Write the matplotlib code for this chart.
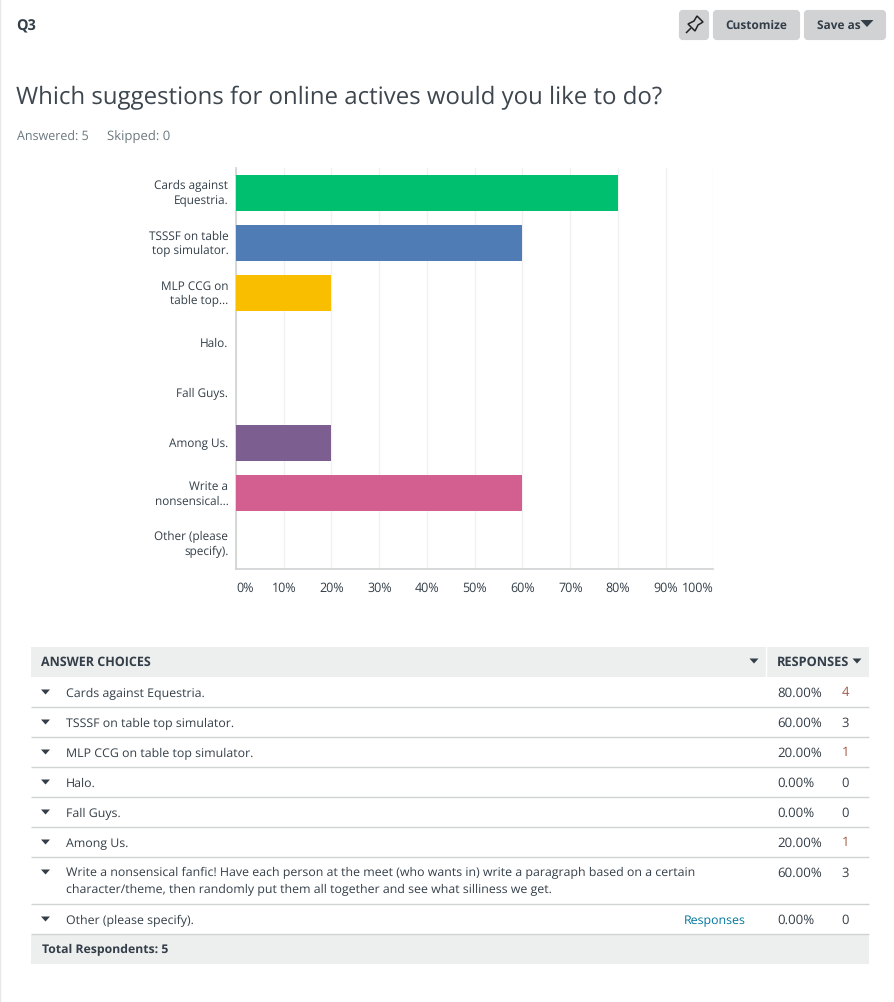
import matplotlib
matplotlib.use("Agg")
import matplotlib.pyplot as plt
from matplotlib.patches import FancyBboxPatch, Rectangle, Polygon
from matplotlib.transforms import ScaledTranslation

plt.rcParams['font.family'] = ['Open Sans', 'DejaVu Sans']
plt.rcParams['text.hinting'] = 'no_hinting'

W, H = 895, 1002
INK = '#333e48'
MUTED = '#6b787f'
RULE = '#d0d2d3'
HEAD = '#edeeee'

question = "Which suggestions for online actives would you like to do?"
categories = ["Cards against\nEquestria.", "TSSSF on table\ntop simulator.", "MLP CCG on\ntable top...",
              "Halo.", "Fall Guys.", "Among Us.", "Write a\nnonsensical...", "Other (please\nspecify)."]
percent = [80, 60, 20, 0, 0, 20, 60, 0]
bar_colors = ['#00bf6f', '#507cb6', '#f9be00', '#6bc8cd', '#7d5e90', '#7d5e90', '#d25f90', '#a8a8a8']
x_ticks = list(range(0, 101, 10))
x_tick_labels = [f"{t}%" for t in x_ticks]

choices = ["Cards against Equestria.", "TSSSF on table top simulator.", "MLP CCG on table top simulator.",
           "Halo.", "Fall Guys.", "Among Us.",
           "Write a nonsensical fanfic! Have each person at the meet (who wants in) write a paragraph based on a certain\ncharacter/theme, then randomly put them all together and see what silliness we get.",
           "Other (please specify)."]
shares = ["80.00%", "60.00%", "20.00%", "0.00%", "0.00%", "20.00%", "60.00%", "0.00%"]
counts = ["4", "3", "1", "0", "0", "1", "3", "0"]
count_colors = ['#a05a48', INK, '#a05a48', INK, INK, '#a05a48', INK, INK]
row_bottoms = [707, 737, 767, 797, 827, 857, 904, 934]

fig = plt.figure(figsize=(W / 100, H / 100), dpi=100, facecolor='white')

# page overlay in pixel coordinates
pg = fig.add_axes([0, 0, 1, 1])
pg.set_xlim(0, W)
pg.set_ylim(H, 0)
pg.axis('off')

def px(s):
    return s * 0.72

def txt(x, y, s, size, color=INK, ha='left', va='center', weight='normal', **kw):
    pg.text(x, y, s, fontsize=px(size), color=color, ha=ha, va=va, fontweight=weight, **kw)

def tri(x, y, w=9, h=5, color=INK):
    pg.add_patch(Polygon([(x - w / 2, y - h / 2), (x + w / 2, y - h / 2), (x, y + h / 2)], closed=True,
                         fc=color, ec='none'))

pg.plot([0.5, 0.5], [0, H], color='#e8e8e8', lw=1)

# header
txt(16, 27, "Q3", 14.5, weight='bold')
for x0, x1 in [(679, 709), (713, 800), (804, 886)]:
    pg.add_patch(FancyBboxPatch((x0 + 2, 12), x1 - x0 - 4, 26, boxstyle="round,pad=0,rounding_size=2",
                                mutation_aspect=1, fc=RULE, ec=RULE, lw=3))
# pin icon
pg.add_patch(Polygon([(697, 16), (703, 22), (698, 25), (695, 31), (688, 24), (694, 21)], closed=True,
                     fc='none', ec='#222222', lw=1.1))
pg.plot([686, 691], [33, 28], color='#222222', lw=1.1, solid_capstyle='butt')
txt(756.5, 25.3, "Customize", 11.9, ha='center', weight='bold')
txt(817, 25.3, "Save as", 11.9, weight='bold')
tri(867, 23.5, w=13, h=7)

txt(16, 97.5, question, 24, color='#3d464e')
txt(17, 137, "Answered: 5", 12.5, color=MUTED)
txt(107, 137, "Skipped: 0", 13.1, color=MUTED)

# chart
L, R, T, B = 236, 713.5, 168, 568.5
ax = fig.add_axes([L / W, 1 - B / H, (R - L) / W, (B - T) / H])
ax.set_facecolor('none')
y = list(range(len(categories)))
ax.barh(y, percent, height=0.72, color=bar_colors, zorder=3)
ax.set_xlim(0, 100)
ax.set_ylim(len(categories) - 0.5, -0.5)
ax.set_xticks(x_ticks)
ax.set_xticklabels(x_tick_labels, fontsize=px(12.5), color=INK)
ax.set_yticks(y)
ax.set_yticklabels(categories, fontsize=px(11.8), color=INK, linespacing=1.3)
ax.tick_params(axis='both', length=0)
ax.tick_params(axis='x', pad=9.5)
ax.tick_params(axis='y', pad=5.5)
labels = ax.get_xticklabels()
labels[0].set_ha('left')
labels[-1].set_ha('right')
for lab in ax.get_yticklabels():
    nudge = 2 if '\n' in lab.get_text() else 1
    lab.set_transform(lab.get_transform() + ScaledTranslation(0, nudge / 100, fig.dpi_scale_trans))
ax.grid(axis='x', color='#f0f0f0', lw=1, zorder=0)
ax.set_axisbelow(True)
for side in ('top', 'right'):
    ax.spines[side].set_visible(False)
for side in ('left', 'bottom'):
    ax.spines[side].set_color(RULE)
    ax.spines[side].set_linewidth(1.2)

# table
pg.add_patch(Rectangle((31, 647), 838, 30, fc=HEAD, ec='none'))
pg.plot([766.5, 766.5], [647, 677], color='white', lw=1)
txt(41, 662, "ANSWER CHOICES", 12.5, weight='bold')
tri(754, 661, w=9, h=5)
txt(777, 662, "RESPONSES", 12.8, weight='bold')
tri(857, 661, w=9, h=5)

top = 677
for i, name in enumerate(choices):
    bottom = row_bottoms[i]
    pg.plot([31, 869], [bottom + 0.2, bottom + 0.2], color=RULE, lw=1, solid_capstyle='butt')
    if '\n' in name:
        cy = top + 16
        for j, part in enumerate(name.split('\n')):
            txt(66, cy + j * 17, part, 12.4)
    else:
        cy = (top + bottom) / 2 + 1
        txt(66, cy + 0.7, name, 12.4)
    tri(45.5, cy - 1, w=9, h=5)
    txt(777, cy, shares[i], 13.3)
    txt(845.5, cy, counts[i], 13, color=count_colors[i], ha='center')
    top = bottom
txt(746, 920.7, "Responses", 12.4, color='#00769d', ha='right')

pg.add_patch(Rectangle((31, 934.5), 838, 29.5, fc=HEAD, ec='none'))
txt(42, 949.7, "Total Respondents: 5", 12.2, weight='bold')

fig.savefig('out.png', dpi=100, facecolor='white')
